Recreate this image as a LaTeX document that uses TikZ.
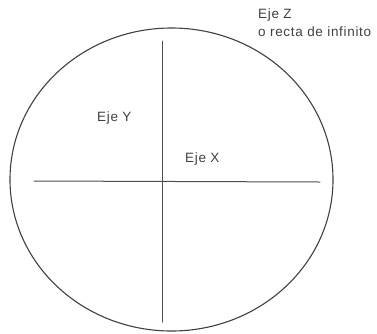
\documentclass[tikz,border=0pt]{standalone}
\usepackage{fontspec}
\setmainfont{Liberation Sans}[LetterSpace=5]
\usetikzlibrary{calc}

\begin{document}
\begin{tikzpicture}[x=1pt,y=-1pt,line cap=round,line join=round,
  axis/.style={line width=1pt,black!70},
  lbl/.style={inner sep=0pt,anchor=base west,text=black!75,font=\fontsize{13.5}{16}\selectfont}]
  \useasboundingbox (0,0) rectangle (377,333);
  % Circle at infinity
  \draw[line width=1.1pt,black!75] (171.5,179.5) ellipse [x radius=161.5,y radius=151.5];
  % Axes
  \coordinate (ytop) at (162,41);
  \coordinate (ybot) at (162,322);
  \coordinate (xleft) at (34,181);
  \coordinate (xright) at (320,182);
  \draw[axis] (ytop)--(ybot);
  \draw[axis] (xleft)--(xright);
  % Labels
  \node[lbl] (ejey) at (97,121) {Eje Y};
  \node[lbl] (ejex) at (185,162) {Eje X};
  \node[lbl] (ejez) at (258,18) {Eje Z};
  \node[lbl] (recta) at (258,36) {o recta de infinito};
\end{tikzpicture}
\end{document}
